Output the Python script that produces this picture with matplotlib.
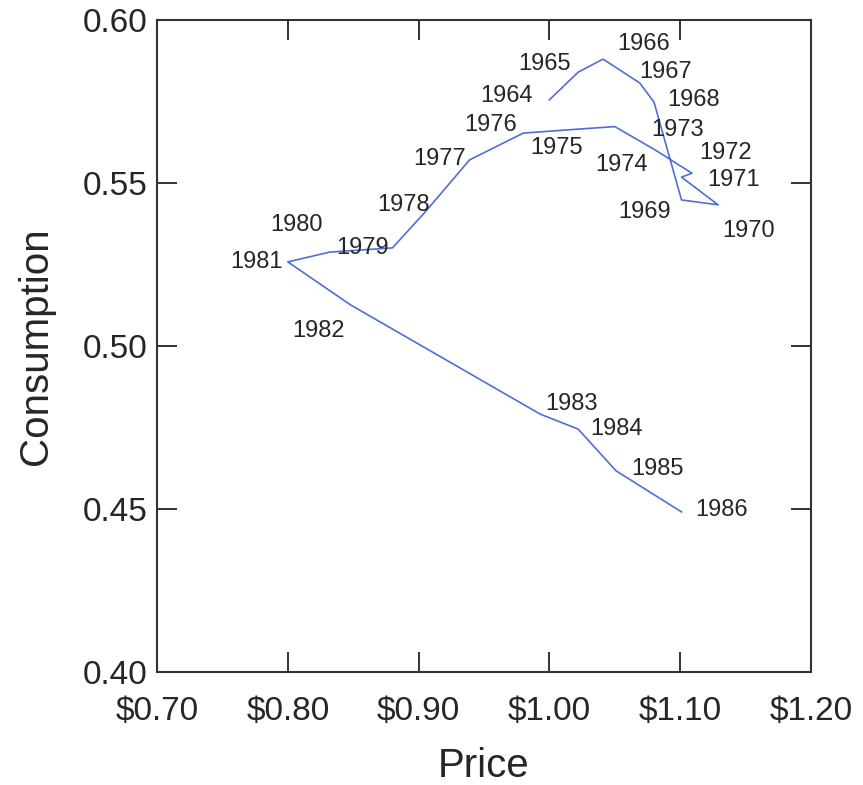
import matplotlib
matplotlib.use("Agg")
import matplotlib.pyplot as plt
from matplotlib.ticker import FuncFormatter

plt.rcParams['font.family'] = ['Liberation Sans', 'DejaVu Sans']

years = list(range(1964, 1987))
price = [1.000, 1.022, 1.041, 1.069, 1.080, 1.101, 1.129, 1.101, 1.109, 1.081,
         1.050, 1.014, 0.980, 0.939, 0.905, 0.880, 0.832, 0.800, 0.848, 0.993,
         1.022, 1.051, 1.101]
consumption = [0.5755, 0.5840, 0.5880, 0.5807, 0.5748, 0.5448, 0.5433, 0.5518,
               0.5530, 0.5601, 0.5673, 0.5663, 0.5653, 0.5571, 0.5411, 0.5301,
               0.5288, 0.5258, 0.5126, 0.4791, 0.4745, 0.4617, 0.4491]

x_ticks = [0.70, 0.80, 0.90, 1.00, 1.10, 1.20]
y_ticks = [0.40, 0.45, 0.50, 0.55, 0.60]

# label offsets (pixels) from each point
label_dx = [-43, -34, 41, 26, 40, -37, 30, 52, 34, 22, 7, -11, -33, -30, -22, -30, -33, -31, -32, 31, 38, 41, 40]
label_dy = [4, 8, 15, 11, 2, -12, -26, -3, 20, 20, -38, -18, 8, 1, 7, 0, 27, 0, -26, 10, 0, 2, 2]

fig = plt.figure(figsize=(8.63, 7.85), dpi=100)
ax = fig.add_axes([157/863, (785-672)/785, 654/863, 652/785])

ax.plot(price, consumption, color='#4f6fd6', lw=1.2)
for yr, x, y, dx, dy in zip(years, price, consumption, label_dx, label_dy):
    ax.annotate(str(yr), (x, y), xytext=(dx, dy), textcoords='offset pixels',
                ha='center', va='center', fontsize=17, color='#262626')

ax.set_xlim(0.70, 1.20)
ax.set_ylim(0.40, 0.60)
ax.set_xticks(x_ticks)
ax.set_yticks(y_ticks)
ax.xaxis.set_major_formatter(FuncFormatter(lambda v, p: f"${v:.2f}"))
ax.yaxis.set_major_formatter(FuncFormatter(lambda v, p: f"{v:.2f}"))
ax.tick_params(direction='in', length=14.5, width=1.3, color='#222222',
               labelsize=24, labelcolor='#262626', top=True, right=True, pad=7)
ax.tick_params(axis='x', pad=17)
for s in ax.spines.values():
    s.set_linewidth(1.5)
    s.set_color('#333333')

ax.set_xlabel('Price', fontsize=29, color='#262626', labelpad=15)
ax.set_ylabel('Consumption', fontsize=29, color='#262626', labelpad=20)

fig.savefig('out.png', dpi=100)
